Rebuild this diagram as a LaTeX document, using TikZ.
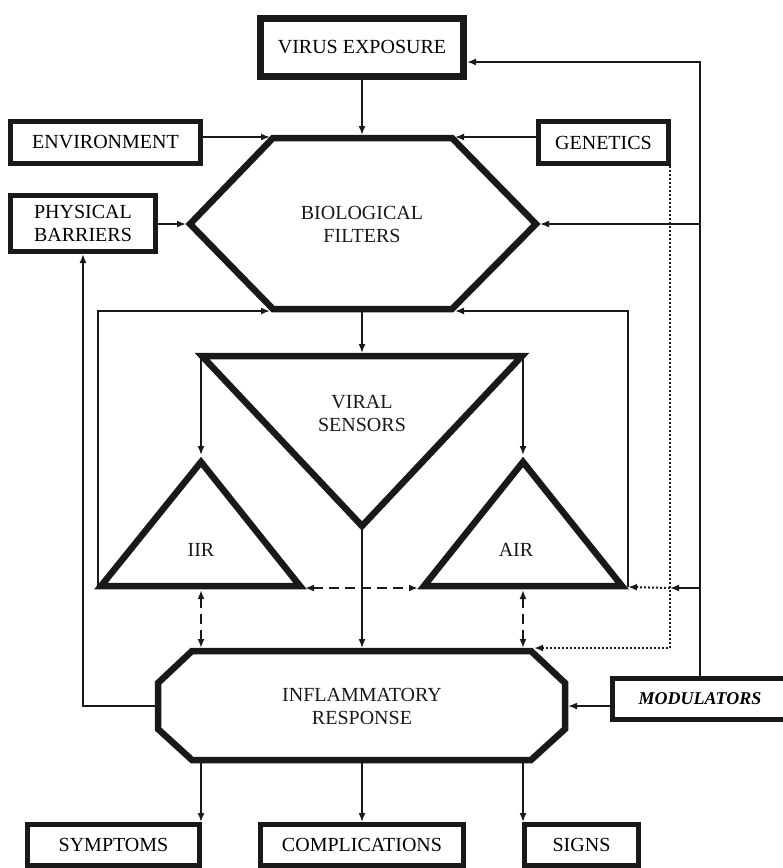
\documentclass[tikz,border=0pt]{standalone}
\usepackage{fontspec}
\setmainfont{Liberation Serif}
\usetikzlibrary{arrows.meta}
\definecolor{ink}{RGB}{25,25,25}

\begin{document}
\begin{tikzpicture}[x=1pt, y=-1pt,
  box/.style={draw=ink, line width=5pt, minimum width=#1, minimum height=42pt, inner sep=0pt, align=center, font=\fontsize{20}{23}\selectfont},
  txt/.style={align=center, text=ink, font=\fontsize{20}{23}\selectfont},
  shp/.style={draw=ink, line width=6.5pt, line join=miter},
  arr/.style={draw=ink, line width=1.7pt, -{Latex[length=9pt,width=7pt]}},
  darr/.style={draw=ink, line width=2.4pt, dash pattern=on 10pt off 6pt, {Latex[length=9pt,width=7pt]}-{Latex[length=9pt,width=7pt]}},
  dotarr/.style={draw=ink, line width=2pt, dash pattern=on 2pt off 2pt, -{Latex[length=9pt,width=7pt]}}]
\clip (0,0) rectangle (783,868);
\fill[white] (0,0) rectangle (783,868);

% boxes
\node[box=203, minimum height=58pt, line width=7pt] (virus) at (362,47.5) {VIRUS EXPOSURE};
\node[box=190] (env) at (105.5,142.5) {ENVIRONMENT};
\node[box=130] (gen) at (603.5,142.5) {GENETICS};
\node[box=145, minimum height=56pt] (phys) at (83,223.5) {PHYSICAL\\BARRIERS};
\node[box=175, minimum height=41pt, font=\fontsize{18}{20}\selectfont\bfseries\itshape] (mod) at (700,699) {MODULATORS};
\node[box=172, minimum height=41pt] (sympt) at (113.5,845) {SYMPTOMS};
\node[box=203, minimum height=41pt] (compl) at (362,845) {COMPLICATIONS};
\node[box=114, minimum height=41pt] (signs) at (581.5,845) {SIGNS};

% biological filters
\draw[shp] (273,138) -- (452,138) -- (536,224) -- (452,309) -- (273,309) -- (190,224) -- cycle;
\node[txt] (bio) at (362,224) {BIOLOGICAL\\FILTERS};
\coordinate (hexTop) at (362,135);
\coordinate (hexTopL) at (270,137);
\coordinate (hexTopR) at (455,137);
\coordinate (hexL) at (186,224);
\coordinate (hexR) at (540,224);
\coordinate (hexBot) at (362,312);
\coordinate (hexBotL) at (270,311);
\coordinate (hexBotR) at (455,311);

% viral sensors
\draw[shp] (202,356) -- (522,356) -- (362,526) -- cycle;
\node[txt] (vsens) at (362,413) {VIRAL\\SENSORS};
\coordinate (vsTop) at (362,353);
\coordinate (vsL) at (201,356);
\coordinate (vsR) at (523,356);
\coordinate (vsBot) at (362,530);

% IIR / AIR
\draw[shp] (201,462) -- (300,586) -- (101,586) -- cycle;
\draw[shp] (523,462) -- (622,586) -- (424,586) -- cycle;
\node[txt] (iir) at (201,550) {IIR};
\node[txt] (air) at (516,550) {AIR};
\coordinate (iirTop) at (201,455);
\coordinate (iirL) at (98,587);
\coordinate (iirR) at (305,588);
\coordinate (iirBot) at (201,590);
\coordinate (airTop) at (523,455);
\coordinate (airL) at (418,588);
\coordinate (airR) at (628,587);
\coordinate (airBot) at (523,590);

% inflammatory response
\draw[shp] (192,651) -- (531,651) -- (565,683) -- (565,729) -- (531,760) -- (192,760) -- (158,729) -- (158,683) -- cycle;
\node[txt] (infl) at (362,706) {INFLAMMATORY\\RESPONSE};
\coordinate (infTop) at (362,648);
\coordinate (infTopL) at (201,648);
\coordinate (infTopR) at (523,648);
\coordinate (infCorner) at (534,648);
\coordinate (infL) at (155,706);
\coordinate (infR) at (568,706);
\coordinate (infBot) at (362,763);
\coordinate (infBotL) at (201,763);
\coordinate (infBotR) at (523,763);

% main flow
\draw[arr] (virus.south) -- (hexTop);
\draw[arr] (env.east |- hexTopL) -- (hexTopL);
\draw[arr] (gen.west |- hexTopR) -- (hexTopR);
\draw[arr] (phys.east |- hexL) -- (hexL);
\draw[arr] (hexBot) -- (vsTop);
\draw[arr] (vsL) -- (iirTop);
\draw[arr] (vsR) -- (airTop);
\draw[arr] (vsBot) -- (infTop);

% feedback loops
\draw[arr] (iirL) |- (hexBotL);
\draw[arr] (airR) |- (hexBotR);
\draw[darr] (iirR) -- (airL);
\draw[darr] (iirBot) -- (infTopL);
\draw[darr] (airBot) -- (infTopR);
\draw[arr] (infL) -| (phys.south);

% genetics (dotted)
\coordinate (dotTurn) at (670,648);
\coordinate (dotJoin) at (670,588);
\draw[dotarr] (gen.south -| dotTurn) -- (dotTurn) -- (infCorner);
\draw[dotarr] (dotJoin) -- (airR);

% modulators
\coordinate (virusIn) at (467,62);
\draw[arr] (mod.north) |- (virusIn);
\draw[arr] (mod.north |- hexR) -- (hexR);
\draw[arr] (mod.north |- dotJoin) -- (dotJoin);
\draw[arr] (mod.west |- infR) -- (infR);

% outcomes
\draw[arr] (infBotL) -- (infBotL |- sympt.north);
\draw[arr] (infBot) -- (compl.north);
\draw[arr] (infBotR) -- (infBotR |- signs.north);
\end{tikzpicture}
\end{document}
